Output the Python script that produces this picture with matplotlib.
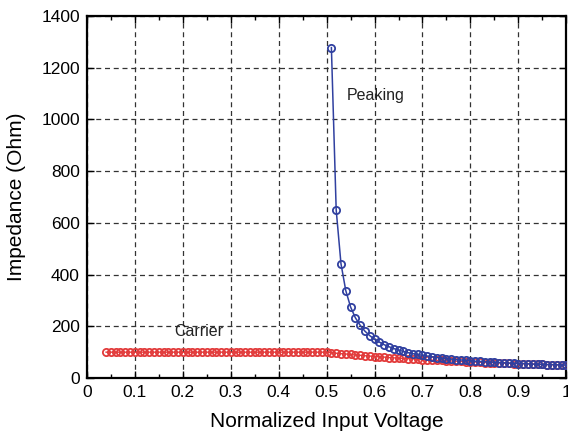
import matplotlib
matplotlib.use("Agg")
import matplotlib.pyplot as plt
from matplotlib.ticker import MultipleLocator

plt.rcParams['font.family'] = ['Liberation Sans', 'DejaVu Sans']

# Carrier amplifier impedance (Ohm) vs normalized input voltage, 0.04..1.00 step 0.01
carrier_v = [round(0.04 + 0.01 * i, 2) for i in range(97)]
carrier_z = [100] * 47 + [
    98, 96, 94, 93, 91, 89, 88, 86, 85, 83,
    82, 81, 79, 78, 77, 76, 75, 74, 72, 71,
    70, 69, 68, 68, 67, 66, 65, 64, 63, 62,
    62, 61, 60, 60, 59, 58, 57, 57, 56, 56,
    55, 54, 54, 53, 53, 52, 51, 51, 50, 50]

# Peaking amplifier impedance (Ohm), 0.51..1.00 step 0.01
peaking_v = [round(0.51 + 0.01 * i, 2) for i in range(50)]
peaking_z = [
    1278, 650, 442, 338, 275, 233, 204, 181, 164, 150,
    139, 129, 121, 114, 108, 103, 98, 94, 91, 88,
    85, 82, 79, 77, 75, 73, 71, 70, 68, 67,
    65, 64, 63, 62, 61, 60, 59, 58, 57, 56,
    56, 55, 54, 53, 53, 52, 52, 51, 51, 50]

x_ticks = [0, 0.1, 0.2, 0.3, 0.4, 0.5, 0.6, 0.7, 0.8, 0.9, 1]
x_ticklabels = ['0', '0.1', '0.2', '0.3', '0.4', '0.5', '0.6', '0.7', '0.8', '0.9', '1']
y_ticks = [0, 200, 400, 600, 800, 1000, 1200, 1400]

fig = plt.figure(figsize=(5.68, 4.34), dpi=100)
ax = fig.add_axes([0.153, 0.129, 0.844, 0.834])

red = '#e23b3b'
blue = '#3040a0'
ax.plot(carrier_v, carrier_z, color=red, lw=1.0, marker='o', ms=5.2,
        mfc='none', mec=red, mew=1.3, zorder=3)
ax.plot(peaking_v, peaking_z, color=blue, lw=1.1, marker='o', ms=5.2,
        mfc='none', mec=blue, mew=1.3, zorder=4)

ax.set_xlim(0, 1)
ax.set_ylim(0, 1400)
ax.set_xticks(x_ticks)
ax.set_xticklabels(x_ticklabels)
ax.set_yticks(y_ticks)
ax.xaxis.set_minor_locator(MultipleLocator(0.05))
ax.tick_params(which='both', direction='in', top=True, right=True, labelsize=12.5, width=1.0)
ax.tick_params(which='major', length=5, pad=5)
ax.tick_params(which='minor', length=3)
ax.grid(True, which='major', color='#333333', linestyle=(0, (4, 3)), linewidth=0.9)
for s in ax.spines.values():
    s.set_linewidth(1.6)

ax.set_xlabel('Normalized Input Voltage', fontsize=15, labelpad=9)
ax.set_ylabel('Impedance (Ohm)', fontsize=15, labelpad=11)

ax.text(0.542, 1094, 'Peaking', fontsize=11.5, va='center', ha='left', color='#222222')
ax.text(0.182, 180, 'Carrier', fontsize=11.5, va='center', ha='left', color='#222222')

fig.savefig('out.png', dpi=100)
